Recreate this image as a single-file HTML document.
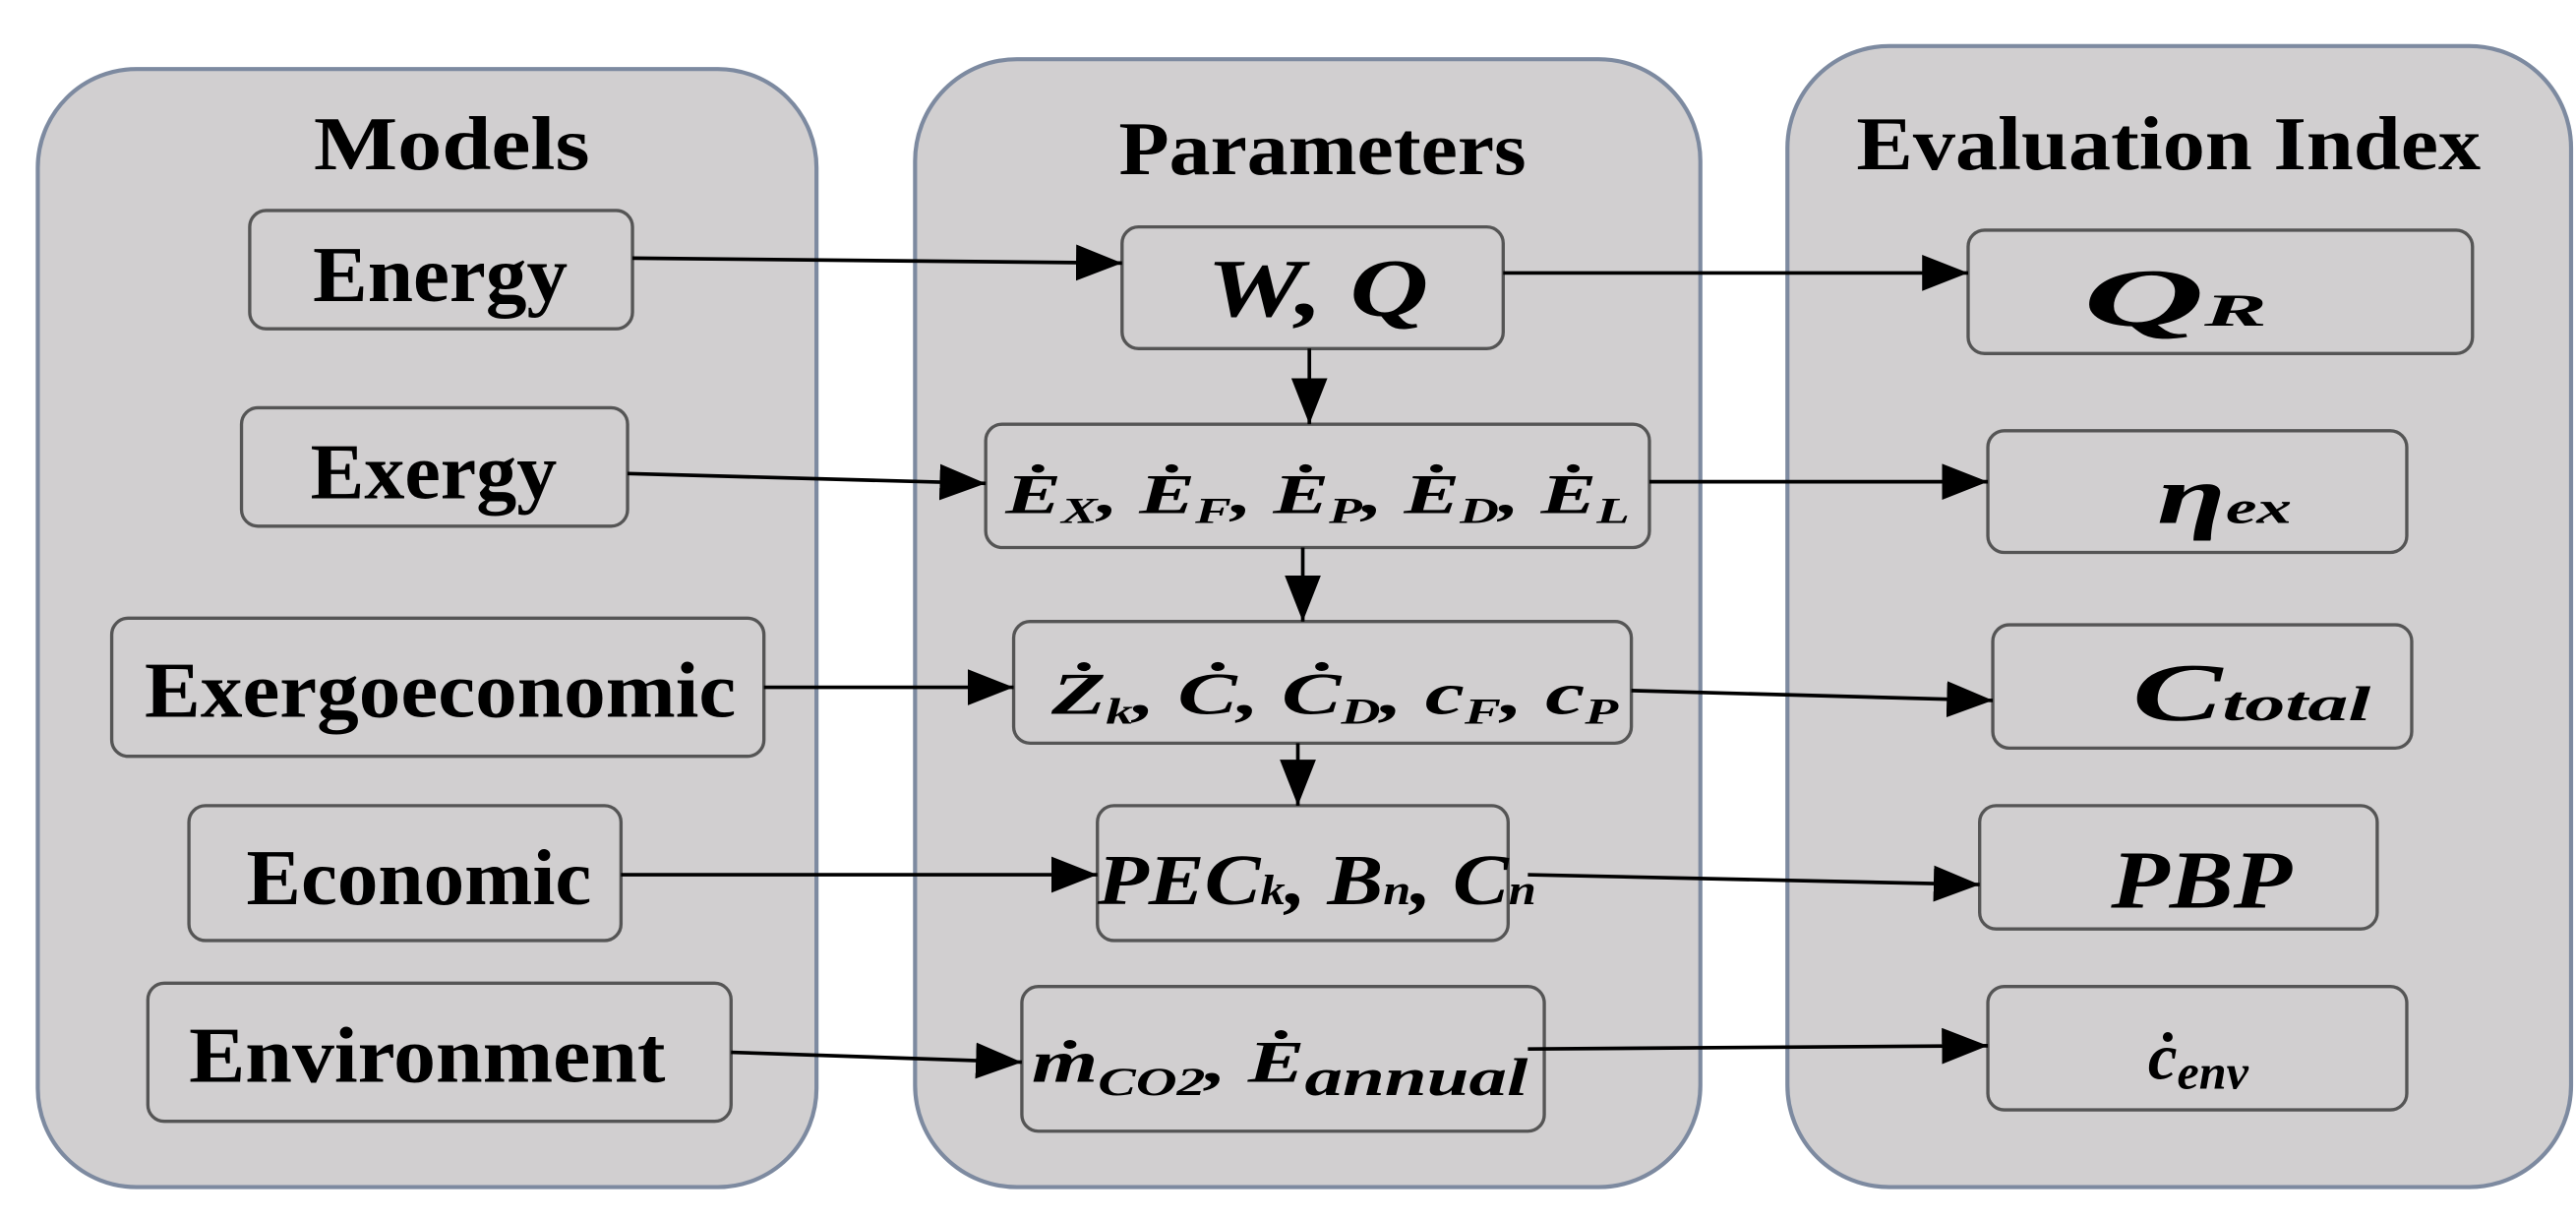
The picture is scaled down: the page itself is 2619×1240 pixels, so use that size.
<!DOCTYPE html>
<html><head><meta charset="utf-8"><style>
html,body{margin:0;padding:0;background:#fff;}
svg{display:block}
text{font-family:"Liberation Serif",serif;font-weight:bold;fill:#000}
.m{font-style:italic}
</style></head><body>
<svg width="2619" height="1240" viewBox="0 0 1568 742" preserveAspectRatio="none" xmlns="http://www.w3.org/2000/svg">
<defs>
<marker id="b" viewBox="0 0 10 10" refX="10" refY="5" markerWidth="28" markerHeight="22" orient="auto" markerUnits="userSpaceOnUse" preserveAspectRatio="none">
<path d="M0,0 L10,5 L0,10 z" fill="#000"/>
</marker>
</defs>
<g fill="#d1cfd0" stroke="#7d8aa0" stroke-width="2.5">
<rect x="23" y="42" width="474" height="680" rx="60"/>
<rect x="557" y="36" width="478" height="686" rx="62"/>
<rect x="1088" y="28" width="477" height="694" rx="62"/>
</g>
<text x="275" y="103" font-size="46" text-anchor="middle" textLength="168" lengthAdjust="spacingAndGlyphs">Models</text>
<text x="805" y="106" font-size="46" text-anchor="middle" textLength="248" lengthAdjust="spacingAndGlyphs">Parameters</text>
<text x="1320" y="103" font-size="46" text-anchor="middle" textLength="380" lengthAdjust="spacingAndGlyphs">Evaluation Index</text>
<g fill="none" stroke="#555" stroke-width="2">
<rect x="152" y="128" width="233" height="72" rx="10"/>
<rect x="147" y="248" width="235" height="72" rx="10"/>
<rect x="68" y="376" width="397" height="84" rx="10"/>
<rect x="115" y="490" width="263" height="82" rx="10"/>
<rect x="90" y="598" width="355" height="84" rx="10"/>
<rect x="683" y="138" width="232" height="74" rx="10"/>
<rect x="600" y="258" width="404" height="75" rx="10"/>
<rect x="617" y="378" width="376" height="74" rx="10"/>
<rect x="668" y="490" width="250" height="82" rx="10"/>
<rect x="622" y="600" width="318" height="88" rx="10"/>
<rect x="1198" y="140" width="307" height="75" rx="10"/>
<rect x="1210" y="262" width="255" height="74" rx="10"/>
<rect x="1213" y="380" width="255" height="75" rx="10"/>
<rect x="1205" y="490" width="242" height="75" rx="10"/>
<rect x="1210" y="600" width="255" height="75" rx="10"/>
</g>
<g font-size="48" text-anchor="middle">
<text x="268" y="183" textLength="155" lengthAdjust="spacingAndGlyphs">Energy</text>
<text x="264" y="303" textLength="150" lengthAdjust="spacingAndGlyphs">Exergy</text>
<text x="268" y="436" textLength="360" lengthAdjust="spacingAndGlyphs">Exergoeconomic</text>
<text x="255" y="550" textLength="210" lengthAdjust="spacingAndGlyphs">Economic</text>
<text x="260" y="658" textLength="290" lengthAdjust="spacingAndGlyphs">Environment</text>
</g>
<g class="m">
<text x="802" y="192" font-size="50" text-anchor="middle" font-weight="normal" textLength="135" lengthAdjust="spacingAndGlyphs">W, Q</text>
<text x="612" y="312" font-size="34" textLength="380" lengthAdjust="spacingAndGlyphs">Ė<tspan font-size="22" dy="6">X</tspan><tspan dy="-6">, Ė</tspan><tspan font-size="22" dy="6">F</tspan><tspan dy="-6">, Ė</tspan><tspan font-size="22" dy="6">P</tspan><tspan dy="-6">, Ė</tspan><tspan font-size="22" dy="6">D</tspan><tspan dy="-6">, Ė</tspan><tspan font-size="22" dy="6">L</tspan></text>
<text x="640" y="434" font-size="36" textLength="345" lengthAdjust="spacingAndGlyphs">Ż<tspan font-size="22" dy="6">k</tspan><tspan dy="-6">, Ċ, Ċ</tspan><tspan font-size="22" dy="6">D</tspan><tspan dy="-6">, c</tspan><tspan font-size="22" dy="6">F</tspan><tspan dy="-6">, c</tspan><tspan font-size="22" dy="6">P</tspan></text>
<text x="668" y="550" font-size="44" font-weight="normal" textLength="267" lengthAdjust="spacingAndGlyphs">PEC<tspan font-size="26">k</tspan>, B<tspan font-size="26">n</tspan>, C<tspan font-size="26">n</tspan></text>
<text x="628" y="658" font-size="36" font-weight="normal" textLength="302" lengthAdjust="spacingAndGlyphs">ṁ<tspan font-size="24" dy="8">CO2</tspan><tspan dy="-8">,  Ė</tspan><tspan font-size="32" dy="8">annual</tspan></text>
<text x="1268" y="198" font-size="50" font-weight="normal" textLength="112" lengthAdjust="spacingAndGlyphs">Q<tspan font-size="28">R</tspan></text>
<text x="1313" y="318" font-size="50" font-weight="normal" textLength="82" lengthAdjust="spacingAndGlyphs">η<tspan font-size="28">ex</tspan></text>
<text x="1298" y="438" font-size="50" font-weight="normal" textLength="145" lengthAdjust="spacingAndGlyphs">C<tspan font-size="30">total</tspan></text>
<text x="1285" y="552" font-size="50" font-weight="normal" textLength="110" lengthAdjust="spacingAndGlyphs">PBP</text>
<text x="1338" y="656" font-size="40" text-anchor="middle">ċ<tspan font-size="30" dy="6">env</tspan></text>
</g>
<g stroke="#000" stroke-width="2.2" fill="none" marker-end="url(#b)">
<line x1="385" y1="157" x2="683" y2="160"/>
<line x1="382" y1="288" x2="600" y2="294"/>
<line x1="465" y1="418" x2="617" y2="418"/>
<line x1="378" y1="532" x2="668" y2="532"/>
<line x1="445" y1="640" x2="622" y2="646"/>
<line x1="915" y1="166" x2="1198" y2="166"/>
<line x1="1004" y1="293" x2="1210" y2="293"/>
<line x1="993" y1="420" x2="1213" y2="426"/>
<line x1="930" y1="532" x2="1205" y2="538"/>
<line x1="930" y1="638" x2="1210" y2="636"/>
<line x1="797" y1="212" x2="797" y2="258"/>
<line x1="793" y1="333" x2="793" y2="378"/>
<line x1="790" y1="452" x2="790" y2="490"/>
</g>
</svg>
</body></html>
